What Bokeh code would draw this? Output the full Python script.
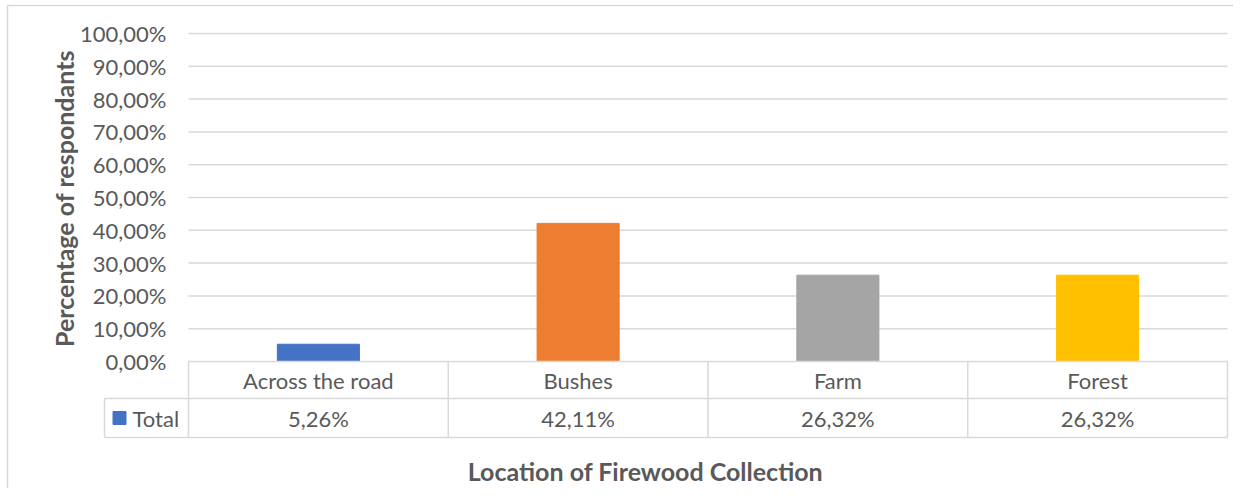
import math
from bokeh.plotting import figure
from bokeh.models import Range1d, ColumnDataSource
from bokeh.core.properties import value
from bokeh.embed import file_html
from bokeh.resources import INLINE

# ---- data ----
categories = ["Across the road", "Bushes", "Farm", "Forest"]
values = [5.26, 42.11, 26.32, 26.32]
colors = ["#4472C4", "#ED7D31", "#A5A5A5", "#FFC000"]
series_name = "Total"
y_ticks = [0, 10, 20, 30, 40, 50, 60, 70, 80, 90, 100]
x_title = "Location of Firewood  Collection"
y_title = "Percentage of respondants"

# ---- layout constants (figure pixel geometry) ----
FIG_W, FIG_H = 1233, 488
PLOT_L, PLOT_R = 188, 1227   # plot area left/right (px)
Y0_PX, Y100_PX = 361, 33     # y of 0% and 100%
ROW1_PX, ROW2_PX = 398, 437  # table row bottoms
LEG_L_PX = 104
BORDER_X, BORDER_Y = 7, 5
col_w = (PLOT_R - PLOT_L) / len(categories)
ppu = (Y0_PX - Y100_PX) / 100.0

def xd(px):
    return (px - PLOT_L) / col_w

def yd(py):
    return (Y0_PX - py) / ppu

x_range = Range1d(xd(0), xd(FIG_W))
y_range = Range1d(yd(FIG_H), yd(0))

p = figure(width=FIG_W, height=FIG_H, output_backend="svg", toolbar_location=None,
           x_range=x_range, y_range=y_range, x_axis_location=None, y_axis_location=None,
           min_border=0, outline_line_color=None)
p.grid.visible = False
p.background_fill_color = "white"
p.border_fill_color = "white"

GRID = "#d9d9d9"
TXT = "#595959"
FONT = value("Lato")
FS = "22px"
n = len(categories)

# outer chart border (left/top)
p.segment(x0=[xd(BORDER_X), xd(BORDER_X)], y0=[yd(BORDER_Y), yd(BORDER_Y)],
          x1=[xd(BORDER_X), xd(FIG_W)], y1=[yd(FIG_H), yd(BORDER_Y)],
          line_color=GRID, line_width=1.5)

# gridlines
gl = [t for t in y_ticks if t > 0]
p.segment(x0=[0] * len(gl), x1=[n] * len(gl), y0=gl, y1=gl, line_color=GRID, line_width=1.5)

# bars
xs = [i + 0.5 for i in range(n)]
src = ColumnDataSource(dict(x=xs, top=values, color=colors, cat=categories))
p.vbar(x="x", top="top", bottom=0, width=0.316, color="color", source=src)

# y tick labels
p.text(x=[xd(166)] * len(y_ticks), y=y_ticks,
       text=[f"{t:.2f}".replace(".", ",") + "%" for t in y_ticks],
       text_align="right", text_baseline="middle", text_font=FONT,
       text_font_size=FS, text_color=TXT)

# data table
r1 = yd(ROW1_PX)
r2 = yd(ROW2_PX)
xl = xd(LEG_L_PX)
hx0 = [0, xl, xl]
hx1 = [n, n, n]
hy = [0, r1, r2]
p.segment(x0=hx0, x1=hx1, y0=hy, y1=hy, line_color=GRID, line_width=1.5)
vx = [float(i) for i in range(n + 1)] + [xl]
vy0 = [0] * (n + 1) + [r1]
p.segment(x0=vx, x1=vx, y0=vy0, y1=[r2] * (n + 2), line_color=GRID, line_width=1.5)

p.text(x=xs, y=[r1 / 2] * n, text=categories, text_align="center", text_baseline="middle",
       text_font=FONT, text_font_size=FS, text_color=TXT)
p.text(x=xs, y=[(r1 + r2) / 2] * n,
       text=[f"{v:.2f}".replace(".", ",") + "%" for v in values],
       text_align="center", text_baseline="middle",
       text_font=FONT, text_font_size=FS, text_color=TXT)

# legend key in table
p.scatter(x=[xd(119)], y=[(r1 + r2) / 2], marker="square", size=13,
          color=colors[0])
p.text(x=[xd(132)], y=[(r1 + r2) / 2], text=[series_name], text_align="left",
       text_baseline="middle", text_font=FONT, text_font_size=FS, text_color=TXT)

# axis titles
p.text(x=[xd(648)], y=[yd(470)], text=[x_title], text_align="center", text_baseline="middle",
       text_font=FONT, text_font_size="25px", text_font_style="bold", text_color=TXT)
p.text(x=[xd(63)], y=[yd(198)], text=[y_title], angle=math.pi / 2, text_align="center",
       text_baseline="middle", text_font=FONT, text_font_size="25px", text_font_style="bold",
       text_color=TXT)

open("out.html", "w").write(file_html(p, INLINE))
